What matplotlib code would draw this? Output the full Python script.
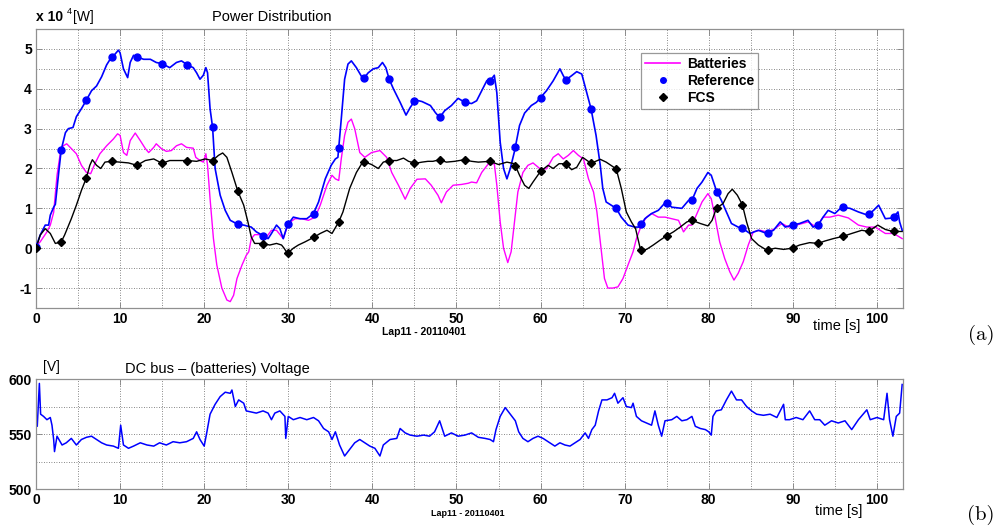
import numpy as np
import matplotlib
matplotlib.use("Agg")
import matplotlib.pyplot as plt
from matplotlib.ticker import MultipleLocator
from matplotlib.lines import Line2D

plt.rcParams["axes.unicode_minus"] = False

# ---------------- data (power in units of 1e4 W) ----------------
t_ref = [0, 0.5, 1.1, 1.5, 1.7, 2.1, 2.3, 2.7, 3.0, 3.5,
         3.85, 4.4, 4.8, 5.4, 5.95, 6.6, 7.2, 7.8, 8.4, 8.9,
         9.4, 9.8, 10.0, 10.4, 10.9, 11.2, 11.6, 12.0, 12.8, 13.6,
         14.3, 15.0, 15.9, 16.7, 17.3, 18.0, 18.7, 19.1, 19.5, 19.9,
         20.2, 20.4, 20.7, 21.0, 21.3, 21.9, 22.5, 23.1, 24.0, 24.7,
         25.6, 26.2, 26.8, 27.6, 28.0, 28.6, 29.0, 29.4, 29.9, 30.6,
         31.4, 32.2, 33.0, 33.6, 34.4, 35.1, 35.6, 35.9, 36.3, 36.7,
         37.1, 37.5, 38.1, 38.9, 39.5, 40.1, 40.7, 41.2, 41.6, 42.0,
         42.5, 43.3, 44.0, 44.5, 45.1, 45.9, 46.9, 47.5, 48.0, 48.6,
         49.4, 50.2, 51.0, 51.8, 52.4, 53.0, 53.6, 54.0, 54.5, 54.8,
         55.2, 55.6, 56.0, 56.4, 56.9, 57.5, 58.1, 58.9, 59.5, 60.0,
         60.7, 61.5, 62.3, 62.7, 63.0, 63.7, 64.3, 64.9, 65.5, 66.0,
         66.6, 67.1, 67.4, 67.8, 68.4, 69.0, 69.6, 70.4, 71.2, 71.8,
         72.4, 73.2, 74.0, 74.9, 75.6, 76.8, 77.6, 78.0, 78.6, 79.2,
         79.9, 80.3, 80.9, 81.5, 82.1, 82.7, 83.5, 84.0, 84.9, 85.9,
         86.9, 87.7, 88.5, 89.1, 89.9, 90.8, 91.8, 92.4, 93.0, 93.6,
         94.2, 95.0, 95.8, 96.8, 97.8, 98.9, 99.6, 100.2, 101.0, 101.9,
         102.5, 102.7, 103.0]
p_ref = [0.03, 0.33, 0.58, 0.58, 0.83, 1.03, 1.1, 1.9, 2.47, 2.9,
         3.0, 3.03, 3.3, 3.5, 3.7, 3.95, 4.07, 4.3, 4.6, 4.77,
         4.87, 4.97, 4.9, 4.5, 4.28, 4.66, 4.84, 4.8, 4.74, 4.74,
         4.66, 4.63, 4.53, 4.66, 4.7, 4.6, 4.53, 4.4, 4.24, 4.34,
         4.53, 4.4, 3.5, 3.03, 2.0, 1.33, 0.95, 0.7, 0.6, 0.58,
         0.53, 0.41, 0.34, 0.24, 0.37, 0.58, 0.49, 0.24, 0.58, 0.78,
         0.74, 0.74, 0.87, 1.16, 1.74, 2.08, 2.24, 2.28, 3.24, 4.24,
         4.62, 4.7, 4.53, 4.24, 4.4, 4.5, 4.53, 4.66, 4.53, 4.24,
         4.0, 3.66, 3.34, 3.53, 3.72, 3.68, 3.58, 3.4, 3.28, 3.45,
         3.58, 3.76, 3.66, 3.63, 3.7, 3.95, 4.2, 4.2, 4.34, 3.9,
         2.66, 2.0, 1.74, 2.0, 2.43, 3.08, 3.39, 3.58, 3.66, 3.78,
         3.95, 4.2, 4.5, 4.33, 4.22, 4.33, 4.43, 4.37, 3.9, 3.5,
         2.83, 2.08, 1.5, 1.16, 1.08, 1.0, 0.78, 0.58, 0.53, 0.53,
         0.74, 0.87, 0.95, 1.16, 1.03, 1.0, 1.2, 1.2, 1.5, 1.66,
         1.9, 1.83, 1.45, 1.2, 0.91, 0.62, 0.53, 0.5, 0.37, 0.45,
         0.37, 0.45, 0.66, 0.53, 0.58, 0.62, 0.7, 0.53, 0.58, 0.78,
         0.95, 0.87, 1.03, 1.0, 0.91, 0.83, 0.95, 1.08, 0.74, 0.76,
         0.91, 0.66, 0.45]

t_bat = [0, 0.5, 1.3, 1.7, 2.1, 2.5, 2.9, 3.25, 3.65, 4.2,
         4.8, 5.4, 6.0, 6.5, 7.0, 7.6, 8.4, 9.2, 9.7, 10.0,
         10.4, 10.8, 11.2, 11.8, 12.4, 13.0, 13.4, 14.0, 14.3, 14.9,
         15.5, 16.1, 16.7, 17.3, 17.9, 18.7, 19.0, 19.5, 19.9, 20.2,
         20.4, 20.7, 21.1, 21.5, 22.1, 22.7, 23.1, 23.5, 23.9, 24.5,
         25.0, 25.3, 25.6, 26.0, 26.6, 27.4, 28.0, 28.6, 29.4, 30.0,
         30.8, 31.6, 32.4, 33.2, 33.8, 34.6, 35.2, 35.6, 36.0, 36.3,
         36.7, 37.1, 37.5, 37.9, 38.5, 39.1, 39.9, 40.9, 41.7, 42.3,
         43.1, 43.9, 44.5, 45.3, 46.3, 47.0, 47.8, 48.2, 48.8, 49.6,
         50.6, 51.4, 51.8, 52.4, 53.0, 53.8, 54.5, 54.8, 55.2, 55.6,
         56.1, 56.5, 56.9, 57.3, 57.9, 58.5, 59.1, 59.9, 60.7, 61.5,
         62.1, 62.7, 63.3, 63.9, 64.5, 65.1, 65.7, 66.3, 66.7, 67.1,
         67.6, 68.0, 68.6, 69.2, 69.8, 70.4, 71.0, 71.4, 72.0, 72.6,
         73.2, 74.0, 74.8, 75.6, 76.4, 77.0, 77.6, 78.0, 78.6, 79.2,
         79.9, 80.3, 80.7, 81.3, 81.9, 82.5, 83.0, 83.5, 84.1, 84.7,
         85.3, 86.1, 86.9, 87.7, 88.7, 89.5, 90.6, 91.8, 92.8, 93.6,
         94.4, 95.4, 96.6, 97.8, 98.8, 99.8, 101.0, 102.0, 103.0]
p_bat = [0.05, 0.16, 0.41, 0.58, 0.9, 1.83, 2.4, 2.57, 2.62, 2.5,
         2.37, 2.08, 1.9, 1.87, 2.12, 2.37, 2.57, 2.74, 2.87, 2.83,
         2.4, 2.33, 2.7, 2.89, 2.7, 2.5, 2.4, 2.53, 2.62, 2.5,
         2.43, 2.45, 2.57, 2.62, 2.53, 2.51, 2.28, 2.2, 2.16, 2.37,
         2.08, 1.24, 0.24, -0.42, -1.0, -1.3, -1.34, -1.18, -0.76, -0.42,
         -0.18, -0.09, 0.24, 0.34, 0.34, 0.28, 0.45, 0.45, 0.24, 0.62,
         0.74, 0.74, 0.7, 0.78, 1.08, 1.58, 1.83, 1.74, 1.7, 2.24,
         2.83, 3.16, 3.24, 3.0, 2.4, 2.28, 2.4, 2.45, 2.28, 1.9,
         1.58, 1.23, 1.5, 1.73, 1.74, 1.58, 1.33, 1.14, 1.41, 1.58,
         1.6, 1.63, 1.66, 1.64, 1.9, 2.12, 2.12, 1.58, 0.66, 0.0,
         -0.36, -0.09, 0.66, 1.41, 1.9, 2.08, 2.14, 2.0, 1.99, 2.28,
         2.37, 2.24, 2.33, 2.45, 2.33, 2.24, 1.74, 1.41, 0.91, 0.16,
         -0.76, -1.0, -1.0, -0.97, -0.76, -0.42, -0.09, 0.24, 0.58, 0.78,
         0.87, 0.78, 0.78, 0.74, 0.7, 0.41, 0.58, 0.58, 0.87, 1.16,
         1.37, 1.24, 0.83, 0.16, -0.26, -0.59, -0.8, -0.63, -0.34, 0.08,
         0.41, 0.45, 0.41, 0.47, 0.62, 0.53, 0.59, 0.66, 0.53, 0.78,
         0.78, 0.83, 0.76, 0.58, 0.53, 0.53, 0.37, 0.37, 0.24]

t_fcs = [0, 0.5, 1.1, 1.7, 2.3, 3.0, 3.4, 4.2, 4.8, 5.4,
         6.0, 6.4, 6.7, 7.2, 7.7, 8.2, 8.9, 10.0, 11.0, 12.0,
         13.0, 14.0, 15.0, 15.9, 16.9, 18.0, 19.1, 20.1, 21.0, 21.7,
         22.2, 22.7, 23.3, 24.0, 24.7, 25.2, 25.6, 26.0, 26.9, 27.8,
         28.6, 29.2, 29.5, 29.9, 30.6, 31.2, 32.0, 33.0, 33.8, 34.6,
         35.2, 36.0, 36.5, 37.3, 38.1, 38.9, 39.9, 40.7, 41.3, 42.0,
         42.9, 43.7, 44.3, 45.1, 45.9, 46.6, 47.2, 48.0, 48.8, 49.8,
         50.9, 51.8, 52.6, 54.0, 55.0, 56.0, 56.9, 57.5, 58.1, 58.6,
         59.1, 60.0, 60.9, 61.5, 62.2, 63.0, 63.7, 64.3, 65.0, 66.0,
         67.1, 67.8, 69.0, 69.6, 70.2, 70.8, 71.3, 71.9, 72.6, 73.4,
         74.2, 74.9, 75.8, 76.6, 77.4, 78.0, 79.0, 79.9, 80.4, 80.9,
         81.7, 82.3, 82.8, 83.4, 84.0, 84.5, 85.1, 85.9, 86.9, 87.9,
         88.9, 89.9, 90.8, 92.0, 93.0, 93.8, 94.8, 96.0, 97.0, 98.2,
         99.0, 100.1, 101.0, 101.9, 103.0]
p_fcs = [0.0, 0.33, 0.49, 0.37, 0.12, 0.16, 0.33, 0.74, 1.08, 1.45,
         1.77, 2.08, 2.22, 2.08, 2.0, 2.16, 2.18, 2.16, 2.14, 2.08,
         2.2, 2.24, 2.13, 2.2, 2.2, 2.2, 2.18, 2.24, 2.2, 2.33,
         2.39, 2.28, 1.9, 1.43, 1.08, 0.66, 0.28, 0.12, 0.12, 0.08,
         0.12, 0.08, 0.0, -0.13, 0.0, 0.08, 0.16, 0.27, 0.37, 0.45,
         0.37, 0.66, 0.91, 1.5, 1.9, 2.18, 2.1, 2.0, 2.16, 2.2,
         2.2, 2.26, 2.18, 2.13, 2.16, 2.18, 2.18, 2.22, 2.16, 2.18,
         2.22, 2.18, 2.16, 2.18, 2.1, 2.16, 2.12, 1.83, 1.58, 1.5,
         1.66, 1.93, 2.08, 2.0, 2.12, 2.12, 1.97, 2.03, 2.28, 2.13,
         2.23, 2.16, 1.99, 1.5, 0.91, 0.66, 0.49, -0.05, -0.03, 0.08,
         0.2, 0.3, 0.41, 0.53, 0.66, 0.7, 0.62, 0.56, 0.7, 1.0,
         1.12, 1.37, 1.48, 1.33, 1.09, 0.66, 0.24, 0.08, -0.05, 0.0,
         -0.03, 0.0, 0.08, 0.14, 0.12, 0.18, 0.24, 0.3, 0.37, 0.45,
         0.42, 0.58, 0.47, 0.42, 0.42]

# DC bus voltage [V]
t_volt = [0, 0.15, 0.4, 0.55, 0.9, 1.3, 1.7, 1.9, 2.1, 2.2,
          2.5, 3.1, 3.6, 4.2, 4.8, 5.4, 6.0, 6.6, 7.2, 7.8,
          8.4, 9.2, 9.8, 10.07, 10.4, 11.0, 11.6, 12.4, 13.2, 14.0,
          14.7, 15.5, 16.3, 17.1, 17.9, 18.7, 19.1, 19.5, 20.0, 20.3,
          20.7, 21.3, 21.9, 22.5, 23.1, 23.3, 23.7, 24.1, 24.7, 25.0,
          25.6, 26.2, 27.0, 27.6, 28.0, 28.4, 29.0, 29.6, 29.7, 30.0,
          30.6, 31.4, 32.2, 33.0, 33.6, 34.2, 34.8, 35.2, 35.6, 36.1,
          36.7, 37.3, 37.9, 38.5, 39.1, 39.7, 40.3, 40.9, 41.3, 42.1,
          42.9, 43.3, 43.9, 44.5, 45.3, 46.1, 46.8, 47.4, 48.0, 48.6,
          49.4, 50.2, 51.0, 51.8, 52.6, 53.4, 54.0, 54.4, 54.7, 55.2,
          55.8, 56.4, 57.0, 57.4, 57.9, 58.5, 59.1, 59.7, 60.3, 60.9,
          61.7, 62.3, 62.9, 63.5, 64.1, 64.7, 65.3, 65.7, 66.1, 66.5,
          66.9, 67.3, 67.9, 68.5, 68.8, 69.2, 69.8, 70.2, 70.8, 71.0,
          71.4, 72.0, 72.6, 73.2, 73.6, 74.0, 74.4, 74.8, 75.6, 76.2,
          76.8, 77.4, 78.0, 78.4, 79.0, 79.6, 80.0, 80.3, 80.5, 80.9,
          81.5, 82.1, 82.7, 83.3, 83.9, 84.5, 85.1, 85.7, 86.5, 87.3,
          88.1, 88.9, 89.1, 89.6, 90.4, 91.2, 92.0, 92.6, 93.2, 93.8,
          94.6, 95.4, 96.2, 97.0, 97.8, 98.8, 99.2, 100.0, 100.8, 101.2,
          101.5, 101.9, 102.3, 102.7, 103.0]
v_volt = [563, 557, 596, 568, 566, 563, 565, 558, 545, 534,
          548, 540, 542, 546, 540, 545, 547, 548, 545, 542,
          540, 539, 537, 558, 540, 537, 539, 542, 540, 539,
          542, 540, 543, 542, 543, 546, 552, 545, 539, 551,
          568, 577, 584, 588, 587, 590, 575, 581, 578, 571,
          570, 569, 571, 569, 563, 569, 571, 566, 546, 566,
          563, 565, 563, 565, 562, 555, 552, 545, 552, 540,
          530, 536, 542, 545, 542, 539, 537, 530, 540, 545,
          546, 555, 551, 549, 548, 549, 548, 552, 562, 548,
          551, 548, 549, 551, 547, 546, 545, 543, 554, 566,
          574, 568, 562, 552, 546, 543, 546, 548, 546, 543,
          539, 542, 540, 539, 542, 545, 551, 546, 554, 558,
          571, 581, 581, 583, 587, 578, 583, 575, 574, 578,
          566, 562, 560, 558, 571, 558, 548, 562, 563, 566,
          562, 563, 566, 557, 555, 554, 552, 549, 566, 571,
          572, 581, 589, 581, 581, 575, 571, 568, 567, 568,
          565, 577, 563, 563, 565, 563, 571, 563, 563, 558,
          562, 560, 562, 554, 563, 572, 563, 565, 563, 587,
          563, 548, 566, 569, 595]

legend_labels = ["Batteries", "Reference", "FCS"]
marker_step = 3  # seconds between markers

# ---------------- figure ----------------
W, H = 1002, 531
fig = plt.figure(figsize=(W / 100, H / 100), dpi=100)
FONT = "Liberation Sans"

def fx(px):
    return px / W

def fy(py):
    return 1 - py / H

grid_kw = dict(color="#606060", linestyle=(0, (1, 2)), linewidth=0.6)

def style_axes(ax, ylo, yhi, ymaj, ymin):
    ax.set_xlim(0, 103.1)
    ax.set_ylim(ylo, yhi)
    ax.xaxis.set_major_locator(MultipleLocator(10))
    ax.xaxis.set_minor_locator(MultipleLocator(5))
    ax.yaxis.set_major_locator(MultipleLocator(ymaj))
    ax.yaxis.set_minor_locator(MultipleLocator(ymin))
    ax.grid(True, which="both", **grid_kw)
    ax.set_axisbelow(True)
    ax.tick_params(which="major", direction="in", length=4, width=0.6,
                   top=True, right=True, color="#808080", pad=3)
    ax.tick_params(which="minor", length=0)
    for s in ax.spines.values():
        s.set_color("#909090")
        s.set_linewidth(0.9)
    for lab in ax.get_xticklabels() + ax.get_yticklabels():
        lab.set_fontfamily(FONT)
        lab.set_fontweight("bold")
        lab.set_fontsize(10)

# ---- top axes: power distribution ----
ax1 = fig.add_axes([fx(36), fy(308), fx(903) - fx(36), fy(29) - fy(308)])
ax1.plot(t_bat, p_bat, color="#FF00FF", lw=1.0, zorder=3)
ax1.plot(t_ref, p_ref, color="#0000FF", lw=1.2, zorder=4)
ax1.plot(t_fcs, p_fcs, color="black", lw=1.0, zorder=5)
tm = np.arange(0, 103, marker_step)
ax1.plot(tm, np.interp(tm, t_ref, p_ref), "o", color="#0000FF", ms=5, zorder=6)
ax1.plot(tm, np.interp(tm, t_fcs, p_fcs), "D", color="black", ms=4.3, zorder=7)
ax1.set_xticks(np.arange(0, 101, 10))
ax1.set_yticks(np.arange(-1, 6, 1))
style_axes(ax1, -1.5, 5.5, 1, 0.5)

handles = [Line2D([], [], color="#FF00FF", lw=1.2),
           Line2D([], [], marker="o", color="#0000FF", ls="none", ms=4),
           Line2D([], [], marker="D", color="black", ls="none", ms=3.8)]
leg = ax1.legend(handles, legend_labels, loc="upper left",
                 bbox_to_anchor=((641 - 36) / 867, (308 - 53) / 279),
                 prop={"family": FONT, "weight": "bold", "size": 10},
                 frameon=True, fancybox=False, borderpad=0.3,
                 handlelength=2.5, handletextpad=0.5, labelspacing=0.2,
                 borderaxespad=0)
leg.get_frame().set_edgecolor("#808080")
leg.get_frame().set_linewidth(0.9)

# ---- bottom axes: DC bus voltage ----
ax2 = fig.add_axes([fx(36), fy(489), fx(903) - fx(36), fy(379) - fy(489)])
ax2.plot(t_volt, v_volt, color="#0000FF", lw=1.1)
ax2.set_xticks(np.arange(0, 101, 10))
ax2.set_yticks([500, 550, 600])
style_axes(ax2, 500, 600, 50, 25)

# ---- texts ----
fig.text(fx(36), fy(17), "x 10", family=FONT, weight="bold", size=10, va="center", ha="left")
fig.text(fx(67), fy(11), "4", family=FONT, size=6.5, va="center", ha="left")
fig.text(fx(73), fy(17), "[W]", family=FONT, size=10, va="center", ha="left")
fig.text(fx(272), fy(17), "Power Distribution", family=FONT, size=10.5, va="center", ha="center")
fig.text(fx(424), fy(332), "Lap11 - 20110401", family=FONT, weight="bold", size=7.5, va="center", ha="center")
fig.text(fx(837), fy(326), "time [s]", family=FONT, size=10.5, va="center", ha="center")
fig.text(fx(981), fy(335), "(a)", family="cmr10", size=15, va="center", ha="center")

fig.text(fx(51), fy(367), "[V]", family=FONT, size=10, va="center", ha="center")
fig.text(fx(217), fy(369), "DC bus \u2013 (batteries) Voltage", family=FONT, size=10.5, va="center", ha="center")
fig.text(fx(468), fy(513), "Lap11 - 20110401", family=FONT, weight="bold", size=6.5, va="center", ha="center")
fig.text(fx(839), fy(511), "time [s]", family=FONT, size=10.5, va="center", ha="center")
fig.text(fx(981), fy(515), "(b)", family="cmr10", size=15, va="center", ha="center")

fig.savefig("out.png", dpi=100)
